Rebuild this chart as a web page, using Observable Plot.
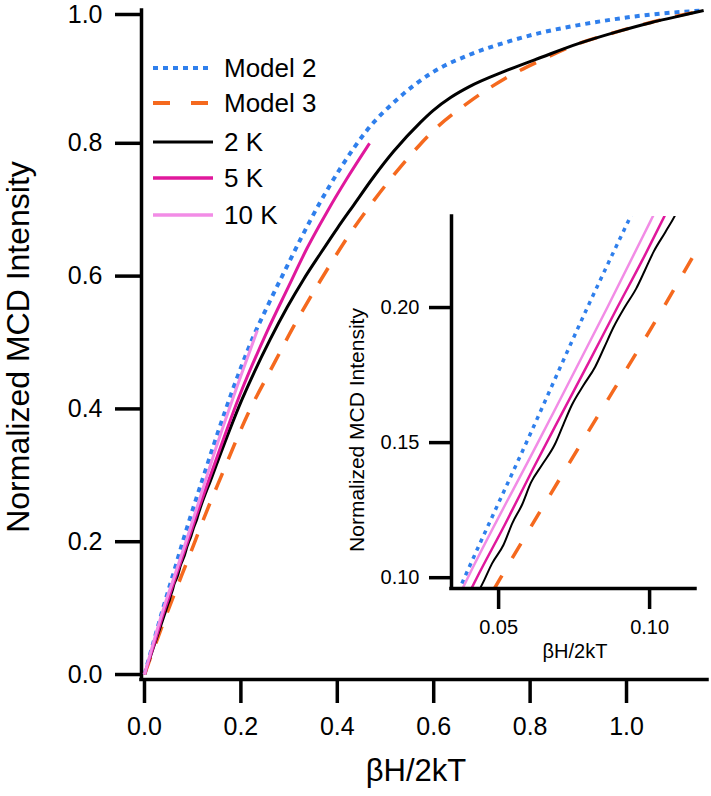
<!DOCTYPE html>
<html><head><meta charset="utf-8">
<script src="https://cdn.jsdelivr.net/npm/d3@7"></script>
<script src="https://cdn.jsdelivr.net/npm/@observablehq/plot@0.6"></script>
<style>
body{margin:0;background:#fff;}
#wrap{position:relative;width:711px;height:796px;font-family:"Liberation Sans",Arial,sans-serif;color:#000;overflow:hidden;}
#wrap svg.plotsvg{position:absolute;}
.t{position:absolute;white-space:nowrap;line-height:1;}
</style></head><body><div id="wrap"></div>
<script>
// ---------- data ----------
const model2X = [0, 0.020, 0.0387, 0.060, 0.0794, 0.0937, 0.120, 0.168, 0.200, 0.227, 0.254, 0.289, 0.324, 0.365, 0.407, 0.462, 0.524, 0.598, 0.673, 0.749, 0.825, 0.900, 0.976, 1.052, 1.160];
const model2Y = [0, 0.052, 0.100, 0.152, 0.200, 0.2337, 0.293, 0.398, 0.462, 0.511, 0.553, 0.605, 0.656, 0.712, 0.763, 0.820, 0.866, 0.907, 0.933, 0.952, 0.967, 0.978, 0.987, 0.994, 1.000];

const model3X = [0, 0.025, 0.0507, 0.0775, 0.1046, 0.1147, 0.160, 0.215, 0.270, 0.310, 0.344, 0.379, 0.420, 0.476, 0.517, 0.569, 0.598, 0.673, 0.749, 0.825, 0.900, 0.976, 1.050, 1.100, 1.160];
const model3Y = [0, 0.050, 0.100, 0.150, 0.200, 0.2195, 0.300, 0.393, 0.470, 0.525, 0.568, 0.610, 0.657, 0.714, 0.752, 0.796, 0.818, 0.862, 0.898, 0.926, 0.950, 0.967, 0.982, 0.991, 1.000];

const k2X = [0.008, 0.0420, 0.0452, 0.0478, 0.0516, 0.0546, 0.0578, 0.0607, 0.0644, 0.0686, 0.0714, 0.0743, 0.0781, 0.0820, 0.0850, 0.0880, 0.0918, 0.0956, 0.0985, 0.1014, 0.1052, 0.1086, 0.1104, 0.140, 0.201, 0.261, 0.296, 0.330, 0.365, 0.400, 0.434, 0.476, 0.517, 0.573, 0.598, 0.635, 0.673, 0.749, 0.825, 0.900, 0.976, 1.052, 1.100, 1.160];
const k2Y = [0.018, 0.0920, 0.0990, 0.1052, 0.1121, 0.1203, 0.1271, 0.1352, 0.1418, 0.1493, 0.1566, 0.1640, 0.1712, 0.1781, 0.1853, 0.1926, 0.2002, 0.2071, 0.2139, 0.2208, 0.2279, 0.2345, 0.2390, 0.298, 0.412, 0.505, 0.553, 0.595, 0.634, 0.672, 0.707, 0.750, 0.788, 0.832, 0.849, 0.869, 0.885, 0.909, 0.930, 0.950, 0.967, 0.982, 0.990, 1.000];

const k5X = [0, 0.020, 0.0428, 0.0520, 0.0615, 0.0705, 0.0800, 0.0893, 0.0985, 0.1050, 0.140, 0.200, 0.254, 0.296, 0.338, 0.379, 0.421, 0.467];
const k5Y = [0, 0.046, 0.100, 0.1195, 0.1405, 0.1598, 0.1800, 0.2000, 0.2195, 0.2340, 0.306, 0.425, 0.516, 0.580, 0.643, 0.697, 0.748, 0.800];

const k10X = [0, 0.0398, 0.0630, 0.0860, 0.1003, 0.150, 0.200, 0.234];
const k10Y = [0, 0.100, 0.1500, 0.2000, 0.2320, 0.345, 0.450, 0.518];

const seriesNames = ["Model 2", "Model 3", "2 K", "5 K", "10 K"];
const seriesColors = ["#2f7fec", "#f5691e", "#000000", "#e0189c", "#f28ce6"];
const mainXTicks = [0, 0.2, 0.4, 0.6, 0.8, 1.0];
const mainYTicks = [0, 0.2, 0.4, 0.6, 0.8];
const mainYTopTick = [1.0];
const insetXTicks = [0.05, 0.10];
const insetYTicks = [0.10, 0.15, 0.20];
const mainXDomain = [-0.0062, 1.168];
const mainYDomain = [-0.0075, 1.0];
const insetXDomain = [0.0344, 0.1152];
const insetYDomain = [0.096, 0.2337];

// ---------- build table ----------
const xs = [model2X, model3X, k2X, k5X, k10X];
const ys = [model2Y, model3Y, k2Y, k5Y, k10Y];
const rows = [];
seriesNames.forEach((s, i) => xs[i].forEach((x, j) => rows.push({series: s, x, y: ys[i][j]})));
const of = s => rows.filter(d => d.series === s);

const FONT = '"Liberation Sans", Arial, sans-serif';
const wrap = document.getElementById("wrap");

function seriesMarks(main) {
  const clip = !main;
  const st = main
    ? [{w: 4, dash: "5,5"}, {w: 3.5, dash: "18,15"}, {w: 3, dash: null}, {w: 3, dash: null}, {w: 3, dash: null}]
    : [{w: 3.5, dash: "4,5"}, {w: 3.5, dash: "17,20"}, {w: 2, dash: null}, {w: 2.5, dash: null}, {w: 2.5, dash: null}];
  return seriesNames.map((s, i) => Plot.line(of(s), {
    x: "x", y: "y", stroke: seriesColors[i], strokeWidth: st[i].w,
    strokeDasharray: st[i].dash || undefined, strokeLinecap: "butt",
    curve: "monotone-x", clip
  }));
}

// ---------- main plot ----------
const yAxisOpts = {tickSize: 26, tickPadding: 13, strokeWidth: 3.5, tickFormat: d3.format(".1f"), fontSize: 25, label: null};
const main = Plot.plot({
  width: 711, height: 796,
  marginLeft: 141, marginRight: 4, marginTop: 10, marginBottom: 117,
  x: {domain: mainXDomain},
  y: {domain: mainYDomain},
  style: {background: "transparent", color: "#000", fontFamily: FONT},
  marks: [
    Plot.ruleX([mainXDomain[0]], {stroke: "#000", strokeWidth: 3.5, strokeLinecap: "square"}),
    Plot.ruleY([mainYDomain[0]], {stroke: "#000", strokeWidth: 3.5, strokeLinecap: "square"}),
    Plot.axisX({ticks: mainXTicks, tickSize: 24, tickPadding: 14, strokeWidth: 3.5, tickFormat: d3.format(".1f"), fontSize: 25, label: null}),
    Plot.axisY({ticks: mainYTicks, ...yAxisOpts}),
    Plot.axisY({ticks: mainYTopTick, ...yAxisOpts, dy: 4}),
    ...seriesMarks(true)
  ]
});
main.classList.add("plotsvg");
main.style.left = "0px"; main.style.top = "0px";
wrap.appendChild(main);

// ---------- inset ----------
const insetLeft = 330, insetTop = 200;
const inset = Plot.plot({
  width: 375, height: 470,
  marginLeft: 121, marginRight: 10, marginTop: 16, marginBottom: 82,
  x: {domain: insetXDomain},
  y: {domain: insetYDomain},
  style: {background: "transparent", color: "#000", fontFamily: FONT},
  marks: [
    ...seriesMarks(false),
    Plot.ruleX([insetXDomain[0]], {stroke: "#000", strokeWidth: 3.5, strokeLinecap: "square"}),
    Plot.ruleY([insetYDomain[0]], {stroke: "#000", strokeWidth: 3.5, strokeLinecap: "square"}),
    Plot.axisX({ticks: insetXTicks, tickSize: 21, tickPadding: 10, strokeWidth: 3.5, tickFormat: d3.format(".2f"), fontSize: 20, label: null}),
    Plot.axisY({ticks: insetYTicks, tickSize: 22, tickPadding: 10, strokeWidth: 3.5, tickFormat: d3.format(".2f"), fontSize: 20, label: null})
  ]
});
inset.classList.add("plotsvg");
inset.style.left = insetLeft + "px"; inset.style.top = insetTop + "px";
wrap.appendChild(inset);

// ---------- titles ----------
function label(text, cx, cy, size, rotate) {
  const d = document.createElement("div");
  d.className = "t";
  d.textContent = text;
  d.style.left = cx + "px"; d.style.top = cy + "px";
  d.style.fontSize = size + "px";
  d.style.transform = "translate(-50%,-50%)" + (rotate ? " rotate(-90deg)" : "");
  wrap.appendChild(d);
}
label("Normalized MCD Intensity", 18, 347, 32, true);
label("βH/2kT", 416, 770, 31, false);
label("Normalized MCD Intensity", 356, 430, 21, true);
label("βH/2kT", 575, 651, 20, false);

// ---------- legend ----------
const legendRowsY = [68, 103, 142, 178, 215];
const legendDash = ["5,5", "17,21", null, null, null];
const legendWidth = [4, 4, 3, 3.5, 3.5];
seriesNames.forEach((s, i) => {
  const ns = "http://www.w3.org/2000/svg";
  const sv = document.createElementNS(ns, "svg");
  sv.setAttribute("width", 62); sv.setAttribute("height", 10);
  sv.style.position = "absolute";
  sv.style.left = "152px"; sv.style.top = (legendRowsY[i] - 5) + "px";
  const ln = document.createElementNS(ns, "line");
  ln.setAttribute("x1", 1); ln.setAttribute("x2", 61);
  ln.setAttribute("y1", 5); ln.setAttribute("y2", 5);
  ln.setAttribute("stroke", seriesColors[i]);
  ln.setAttribute("stroke-width", legendWidth[i]);
  if (legendDash[i]) ln.setAttribute("stroke-dasharray", legendDash[i]);
  sv.appendChild(ln);
  wrap.appendChild(sv);
  const d = document.createElement("div");
  d.className = "t";
  d.textContent = s;
  d.style.left = "224px"; d.style.top = legendRowsY[i] + "px";
  d.style.fontSize = "26px";
  d.style.transform = "translateY(-50%)";
  wrap.appendChild(d);
});
</script>
</body></html>
